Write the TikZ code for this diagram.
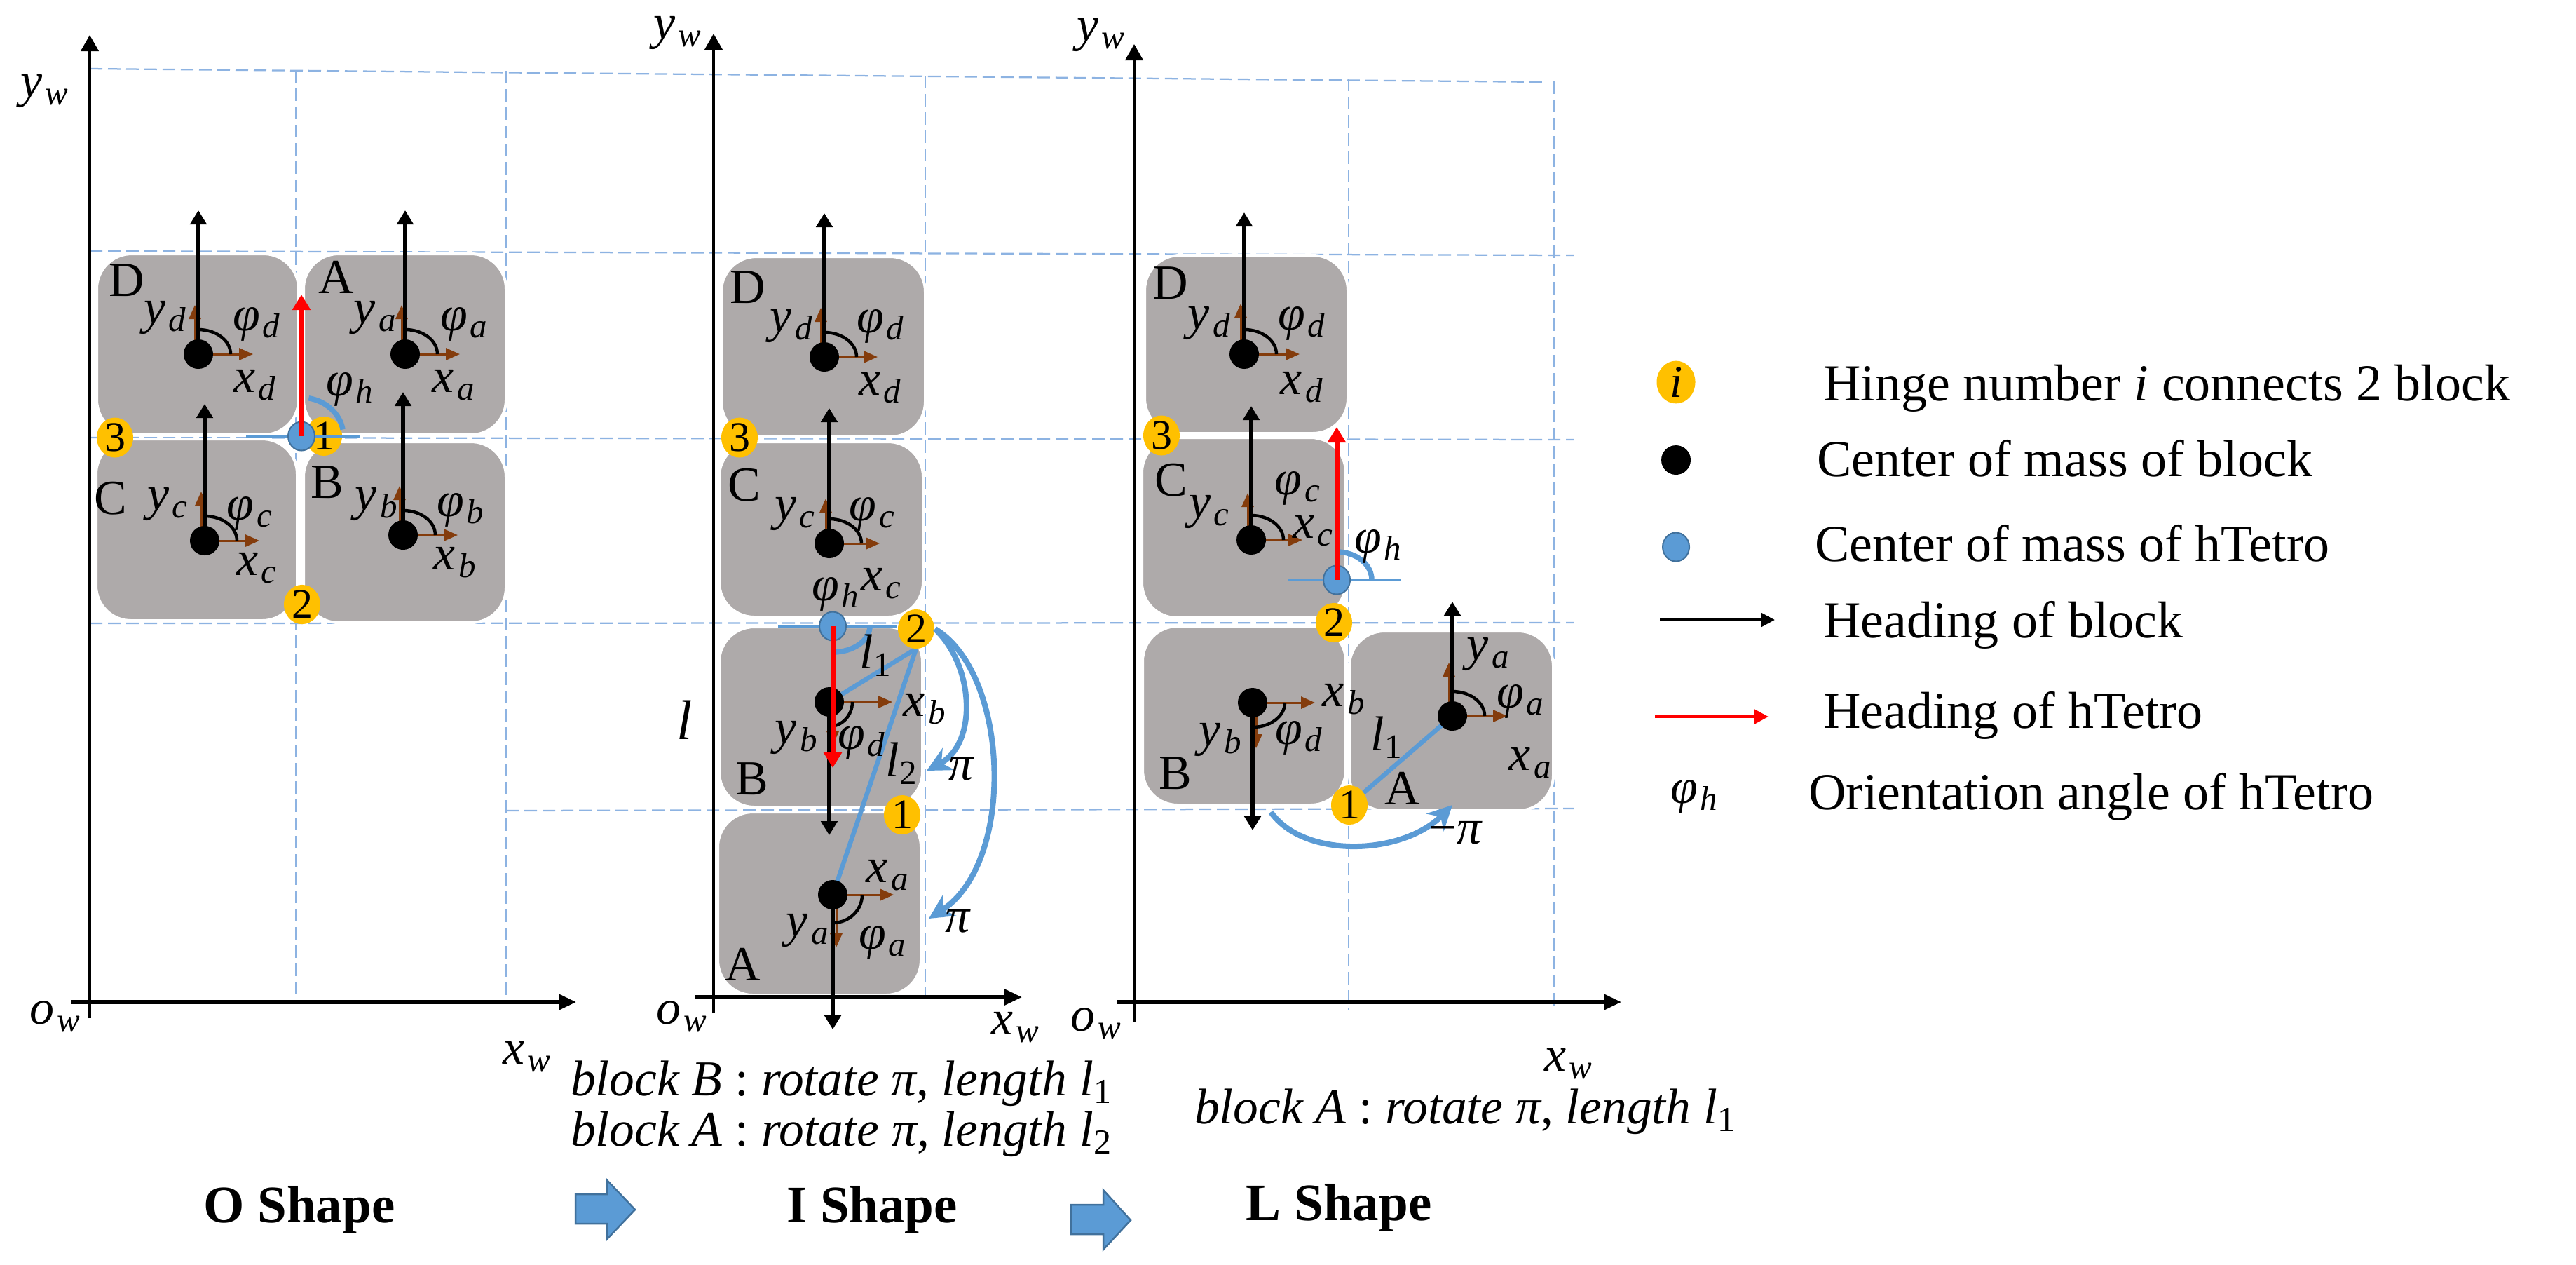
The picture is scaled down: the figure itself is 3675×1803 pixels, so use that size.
\documentclass[tikz,border=0pt]{standalone}
\usepackage{fontspec}
\setmainfont{Liberation Serif}
\usetikzlibrary{arrows.meta,shapes.geometric}
\definecolor{blockgray}{HTML}{AEAAAA}
\definecolor{hingeY}{HTML}{FFC000}
\definecolor{hblue}{HTML}{5B9BD5}
\definecolor{hblueD}{HTML}{41719C}
\definecolor{brownA}{HTML}{843C0C}
\definecolor{gridblue}{HTML}{8DB3E2}
\definecolor{redA}{HTML}{FF0000}
\newcommand{\fsz}[1]{\fontsize{#1}{#1}\selectfont}
\newcommand{\vv}[2]{\textit{#1}\textsubscript{\kern0.8pt\textit{#2}}}
\newcommand{\ph}[1]{\vv{φ}{#1}}
\begin{document}
\begin{tikzpicture}[x=0.2pt,y=-0.2pt,
 blk/.style={fill=blockgray, draw=white, line width=0.8pt, rounded corners=10pt},
 grd/.style={draw=gridblue, line width=0.45pt, dash pattern=on 3.6pt off 1.6pt},
 cmdot/.style={circle, fill=black, inner sep=0pt, minimum size=8.4pt},
 hcm/.style={ellipse, fill=hblue, draw=hblueD, line width=0.4pt, inner sep=0pt, minimum width=7.6pt, minimum height=8.2pt},
 hinge/.style={ellipse, fill=hingeY, inner sep=0pt, minimum width=10.4pt, minimum height=10pt, font=\fsz{12}},
 heading/.style={line width=1.1pt, -{Triangle[length=4pt,width=4.6pt]}},
 hred/.style={draw=redA, line width=1.4pt, -{Triangle[length=4.4pt,width=5pt]}},
 frm/.style={draw=brownA, line width=0.6pt, -{Triangle[length=4pt,width=3.4pt]}},
 angarc/.style={line width=0.9pt},
 hlinestyle/.style={draw=hblue, line width=0.9pt},
 harc/.style={draw=hblue, line width=1.5pt},
 lenl/.style={draw=hblue, line width=1.3pt},
 rotarr/.style={draw=hblue, line width=1.6pt, -{Stealth[length=7pt,width=7pt]}},
 xaxis/.style={line width=1.1pt, -{Triangle[length=5pt,width=4.4pt]}},
 yaxis/.style={line width=0.85pt, -{Triangle[length=4.6pt,width=5pt]}},
 mlab/.style={font=\fsz{14}, inner sep=0pt},
 blab/.style={font=\fsz{14}, inner sep=0pt},
 lgtxt/.style={font=\fsz{14.8}, inner sep=0pt, anchor=west},
 ttl/.style={font=\fsz{15}\bfseries, inner sep=0pt},
 captxt/.style={font=\fsz{14.3}, inner sep=0pt, anchor=west},
 barrow/.style={fill=hblue, draw=hblueD, line width=0.5pt},
]
\useasboundingbox (0,0) rectangle (3675,1803);

% ---------------- grid ----------------
\draw[grd] (128,98) -- (2207,117);
\draw[grd] (128,358) -- (2245,364);
\draw[grd] (128,624) -- (2245,627);
\draw[grd] (128,889) -- (2245,888);
\draw[grd] (722,1156) -- (2245,1153);
\draw[grd] (422,100) -- (422,1429);
\draw[grd] (722,101) -- (722,1422);
\draw[grd] (1320,108) -- (1320,1422);
\draw[grd] (1924,112) -- (1924,1440);
\draw[grd] (2217,116) -- (2217,1440);

% ---------------- blocks ----------------
\path[blk] (138,362) rectangle (426,620);
\path[blk] (433,362) rectangle (722,620);
\path[blk] (137,626) rectangle (424,885);
\path[blk] (433,630) rectangle (722,888);
\path[blk] (1029,366) rectangle (1320,623);
\path[blk] (1026,630) rectangle (1317,880);
\path[blk] (1026,894) rectangle (1316,1151);
\path[blk] (1024,1158) rectangle (1314,1419);
\path[blk] (1633,364) rectangle (1923,618);
\path[blk] (1629,624) rectangle (1920,881);
\path[blk] (1630,893) rectangle (1920,1148);
\path[blk] (1925,900) rectangle (2216,1156);

% ---------------- axes ----------------
\coordinate (oYb) at (128,1452); \coordinate (oYt) at (128,50);
\coordinate (oXl) at (101,1429); \coordinate (oXr) at (822,1429);
\coordinate (iYb) at (1018,1445); \coordinate (iYt) at (1018,48);
\coordinate (iXl) at (991,1422); \coordinate (iXr) at (1458,1422);
\coordinate (lYb) at (1618,1458); \coordinate (lYt) at (1618,63);
\coordinate (lXl) at (1594,1429); \coordinate (lXr) at (2313,1429);
\draw[yaxis] (oYb) -- (oYt); \draw[xaxis] (oXl) -- (oXr);
\draw[yaxis] (iYb) -- (iYt); \draw[xaxis] (iXl) -- (iXr);
\draw[yaxis] (lYb) -- (lYt); \draw[xaxis] (lXl) -- (lXr);
\node[mlab] (oyw) at (65,130) {\vv{y}{w}};
\node[mlab] (oow) at (80,1450) {\vv{o}{w}};
\node[mlab] (oxw) at (753,1507) {\vv{x}{w}};
\node[mlab] (iyw) at (968,47) {\vv{y}{w}};
\node[mlab] (iow) at (974,1450) {\vv{o}{w}};
\node[mlab] (ixw) at (1450,1465) {\vv{x}{w}};
\node[mlab] (lyw) at (1572,50) {\vv{y}{w}};
\node[mlab] (low) at (1565,1460) {\vv{o}{w}};
\node[mlab] (lxw) at (2239,1517) {\vv{x}{w}};

% ---------------- positions ----------------
\coordinate (oD) at (283,505);  \coordinate (oA) at (578,505);
\coordinate (oC) at (292,771);  \coordinate (oB) at (575,763);
\coordinate (iD) at (1176,509); \coordinate (iC) at (1183,775);
\coordinate (iB) at (1183,1001);\coordinate (iA) at (1188,1276);
\coordinate (lD) at (1775,505); \coordinate (lC) at (1785,770);
\coordinate (lB) at (1787,1002);\coordinate (lA) at (2072,1021);
\coordinate (iP) at (1307,925);
\coordinate (l1pos) at (1925,1148);

% length lines
\draw[lenl] (iP) -- (iB);
\draw[lenl] (iP) -- (iA);
\draw[lenl] (l1pos) -- (lA);

% up-facing local frames
\foreach \n/\yl/\xl/\h in {oD/70/78/205,oA/70/78/205,oC/70/78/195,oB/70/78/204,iD/70/76/205,iC/64/72/193,lD/72/79/202,lC/67/73/191,lA/76/78/163}{
  \draw[frm] ([xshift=-1pt]\n) -- ++(0,-\yl);
  \draw[frm] (\n) -- ++(\xl,0);
  \draw[angarc] (\n) ++(90:7pt) arc[start angle=90,end angle=0,x radius=9.2pt,y radius=7pt];
  \draw[heading] (\n) -- ++(0,-\h);
}
% down-facing local frames
\foreach \n/\yl/\xl/\h/\rx/\ry in {iB/62/90/190/6.6pt/7pt,iA/75/87/192/8.4pt/8pt,lB/65/89/182/9.2pt/7pt}{
  \draw[frm] ([xshift=1pt]\n) -- ++(0,\yl);
  \draw[frm] (\n) -- ++(\xl,0);
  \draw[angarc] (\n) ++(0:\rx) arc[start angle=0,end angle=-90,x radius=\rx,y radius=\ry];
  \draw[heading] (\n) -- ++(0,\h);
}
\foreach \n in {oD,oA,oC,oB,iD,iC,iB,iA,lD,lC,lB,lA}{
  \node[cmdot] (\n dot) at (\n) {};
}

% ---------------- hinges ----------------
\node[hinge] (o1) at (462,622) {1};
\node[hinge] (o3) at (164,624) {3};
\node[hinge] (o2) at (431,862) {2};
\node[hinge] (i3) at (1055,624) {3};
\node[hinge] (i2) at (1307,897) {2};
\node[hinge] (i1) at (1287,1162) {1};
\node[hinge] (l3) at (1657,621) {3};
\node[hinge] (l2) at (1903,888) {2};
\node[hinge] (l1) at (l1pos) {1};

% rotation arrows
\coordinate (piA) at (1322,1099);
\coordinate (piB) at (1325,1310);
\coordinate (mpS) at (1813,1158);
\coordinate (mpE) at (2072,1148);
\draw[rotarr] (i2.east) .. controls (1390,950) and (1395,1060) .. (piA);
\draw[rotarr] (i2.east) .. controls (1440,960) and (1450,1230) .. (piB);
\draw[rotarr] (mpS) .. controls (1860,1225) and (2000,1220) .. (mpE);

% ---------------- hTetro centres ----------------
\coordinate (oHc) at (430,622);
\draw[hlinestyle] ([xshift=-15.8pt]oHc) -- ([xshift=16.6pt]oHc);
\draw[harc] (oHc) ++(80:12pt and 11pt) arc[start angle=80,end angle=10,x radius=12pt,y radius=11pt];
\node[hcm] (oH) at (oHc) {};
\draw[hred] (oH.center) -- ++(0,-202);

\coordinate (iHc) at (1188,893);
\draw[hlinestyle] ([xshift=-15.6pt]iHc) -- ([xshift=18.4pt]iHc);
\draw[harc] (iHc) ++(0:10.6pt) arc[start angle=0,end angle=-90,x radius=10.6pt,y radius=7.4pt];
\node[hcm] (iH) at (iHc) {};
\draw[hred] (iH.center) -- ++(0,202);

\coordinate (lHc) at (1907,827);
\draw[hlinestyle] ([xshift=-13.8pt]lHc) -- ([xshift=18.4pt]lHc);
\draw[harc] (lHc) ++(90:8pt) arc[start angle=90,end angle=0,x radius=10pt,y radius=8pt];
\node[hcm] (lH) at (lHc) {};
\draw[hred] (lH.center) -- ++(0,-218);

% ---------------- labels O ----------------
\node[blab] (oDl) at (181,400) {D};
\node[mlab] (oDy) at (237,453) {\vv{y}{d}};
\node[mlab] (oDp) at (367,462) {\ph{d}};
\node[mlab] (oDx) at (365,549) {\vv{x}{d}};
\node[blab] (oAl) at (480,395) {A};
\node[mlab] (oAy) at (536,453) {\vv{y}{a}};
\node[mlab] (oAp) at (663,462) {\ph{a}};
\node[mlab] (oAx) at (648,549) {\vv{x}{a}};
\node[blab] (oCl) at (158,711) {C};
\node[mlab] (oCy) at (240,719) {\vv{y}{c}};
\node[mlab] (oCp) at (357,732) {\ph{c}};
\node[mlab] (oCx) at (367,810) {\vv{x}{c}};
\node[blab] (oBl) at (467,688) {B};
\node[mlab] (oBy) at (538,719) {\vv{y}{b}};
\node[mlab] (oBp) at (658,727) {\ph{b}};
\node[mlab] (oBx) at (650,802) {\vv{x}{b}};
\node[mlab] (oHp) at (500,555) {\ph{h}};

% ---------------- labels I ----------------
\node[blab] (iDl) at (1067,410) {D};
\node[mlab] (iDy) at (1130,465) {\vv{y}{d}};
\node[mlab] (iDp) at (1257,465) {\ph{d}};
\node[mlab] (iDx) at (1257,553) {\vv{x}{d}};
\node[blab] (iCl) at (1062,692) {C};
\node[mlab] (iCy) at (1135,733) {\vv{y}{c}};
\node[mlab] (iCp) at (1245,733) {\ph{c}};
\node[mlab] (iCx) at (1258,832) {\vv{x}{c}};
\node[mlab] (iHp) at (1193,847) {\ph{h}};
\node[mlab] (iL1) at (1250,935) {\textit{l}\textsubscript{1}};
\node[mlab] (iBx) at (1320,1011) {\vv{x}{b}};
\node[mlab] (iBp) at (1230,1059) {\ph{d}};
\node[mlab] (iL2) at (1287,1089) {\textit{l}\textsubscript{2}};
\node[mlab] (iBy) at (1137,1052) {\vv{y}{b}};
\node[blab] (iBl) at (1073,1111) {B};
\node[mlab] (iAx) at (1267,1248) {\vv{x}{a}};
\node[mlab] (iAp) at (1260,1344) {\ph{a}};
\node[mlab] (iAy) at (1153,1327) {\vv{y}{a}};
\node[blab] (iAl) at (1060,1375) {A};
\node[mlab] (iPi1) at (1372,1097) {\textit{π}};
\node[mlab] (iPi2) at (1367,1314) {\textit{π}};
\node[mlab, font=\fsz{16}] (iLen) at (977,1027) {\textit{l}};

% ---------------- labels L ----------------
\node[blab] (lDl) at (1670,404) {D};
\node[mlab] (lDy) at (1726,461) {\vv{y}{d}};
\node[mlab] (lDp) at (1858,461) {\ph{d}};
\node[mlab] (lDx) at (1858,552) {\vv{x}{d}};
\node[blab] (lCl) at (1671,685) {C};
\node[mlab] (lCy) at (1726,730) {\vv{y}{c}};
\node[mlab] (lCp) at (1852,696) {\ph{c}};
\node[mlab] (lCx) at (1874,757) {\vv{x}{c}};
\node[mlab] (lHp) at (1967,779) {\ph{h}};
\node[blab] (lBl) at (1677,1103) {B};
\node[mlab] (lBx) at (1918,997) {\vv{x}{b}};
\node[mlab] (lBy) at (1742,1055) {\vv{y}{b}};
\node[mlab] (lBp) at (1854,1052) {\ph{d}};
\node[blab] (lAl) at (2001,1124) {A};
\node[mlab] (lAy) at (2124,933) {\vv{y}{a}};
\node[mlab] (lAp) at (2170,1000) {\ph{a}};
\node[mlab] (lAx) at (2184,1088) {\vv{x}{a}};
\node[mlab] (lL1) at (1979,1052) {\textit{l}\textsubscript{1}};
\node[mlab] (lPi) at (2077,1188) {−\textit{π}};

% ---------------- legend ----------------
\node[hinge, minimum width=11pt, minimum height=10.8pt, font=\fsz{13}] (lgH) at (2391,545) {\textit{i}};
\node[lgtxt] (lgHt) at (2600,554) {Hinge number \textit{i} connects 2 block};
\node[cmdot] (lgC) at (2391,656) {};
\node[lgtxt] (lgCt) at (2591,654) {Center of mass of block};
\node[hcm] (lgB) at (2391,780) {};
\node[lgtxt] (lgBt) at (2588,775) {Center of mass of hTetro};
\coordinate (lgK1) at (2368,884); \coordinate (lgK2) at (2532,884);
\draw[line width=0.9pt, -{Triangle[length=4pt,width=4pt]}] (lgK1) -- (lgK2);
\node[lgtxt] (lgKt) at (2600,891) {Heading of block};
\coordinate (lgR1) at (2361,1022); \coordinate (lgR2) at (2523,1022);
\draw[draw=redA, line width=0.9pt, -{Triangle[length=4pt,width=4pt]}] (lgR1) -- (lgR2);
\node[lgtxt] (lgRt) at (2600,1020) {Heading of hTetro};
\node[mlab] (lgP) at (2418,1136) {\ph{h}};
\node[lgtxt] (lgPt) at (2579,1136) {Orientation angle of hTetro};

% ---------------- captions ----------------
\node[captxt] (capI1) at (813,1545) {\textit{block B} : \textit{rotate π}, \textit{length l}\textsubscript{1}};
\node[captxt] (capI2) at (813,1617) {\textit{block A} : \textit{rotate π}, \textit{length l}\textsubscript{2}};
\node[captxt] (capL) at (1703,1585) {\textit{block A} : \textit{rotate π}, \textit{length l}\textsubscript{1}};
\node[ttl] (tO) at (427,1725) {O Shape};
\node[ttl] (tI) at (1244,1725) {I Shape};
\node[ttl] (tL) at (1910,1722) {L Shape};
\draw[barrow] (821,1703) -- (866,1703) -- (866,1683) -- (906,1725) -- (866,1767) -- (866,1745) -- (821,1745) -- cycle;
\draw[barrow] (1528,1718) -- (1574,1718) -- (1574,1697) -- (1613,1740) -- (1574,1782) -- (1574,1760) -- (1528,1760) -- cycle;
\end{tikzpicture}
\end{document}
